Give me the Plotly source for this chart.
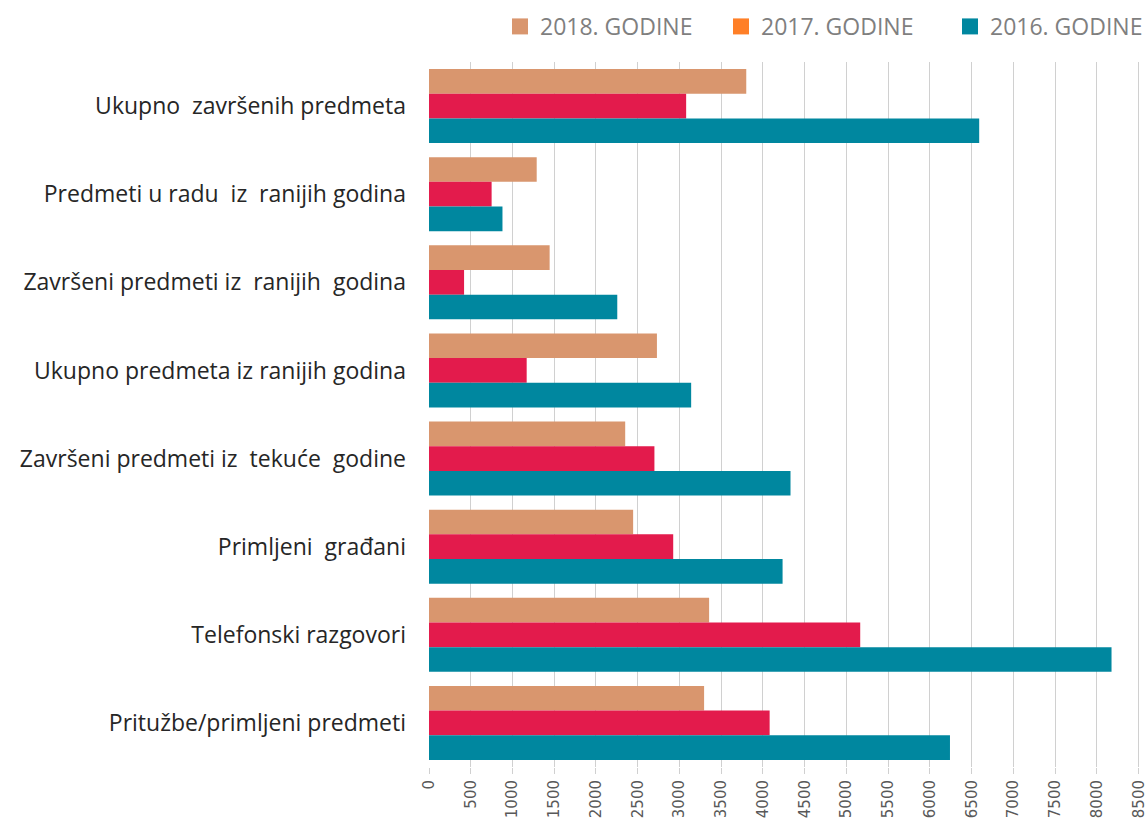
import plotly.graph_objects as go

categories = [
    "Ukupno  završenih predmeta",
    "Predmeti u radu  iz  ranijih godina",
    "Završeni predmeti iz  ranijih  godina",
    "Ukupno predmeta iz ranijih godina",
    "Završeni predmeti iz  tekuće  godine",
    "Primljeni  građani",
    "Telefonski razgovori",
    "Pritužbe/primljeni predmeti",
]
v2018 = [3800, 1290, 1445, 2730, 2350, 2445, 3355, 3295]
v2017 = [3080, 750, 420, 1170, 2700, 2925, 5165, 4080]
v2016 = [6590, 880, 2255, 3140, 4330, 4235, 8175, 6240]
series_names = ["2018. GODINE", "2017. GODINE", "2016. GODINE"]
bar_colors = ["#D9966E", "#E31B4C", "#00879F"]
legend_colors = ["#D9966E", "#FF7F27", "#00879F"]
tick_vals = list(range(0, 8501, 500))

legend_ids = ["legend", "legend2", "legend3"]
legend_x = [500, 721, 950]

fig = go.Figure()
for name, vals, col in zip(series_names, [v2018, v2017, v2016], bar_colors):
    fig.add_trace(go.Bar(y=categories, x=vals, orientation="h", name=name,
                         marker=dict(color=col, line=dict(width=0)), showlegend=False))
for name, col, lid in zip(series_names, legend_colors, legend_ids):
    fig.add_trace(go.Scatter(x=[None], y=[None], mode="markers", name=name, legend=lid,
                             marker=dict(symbol="square", size=16, color=col)))

legend_common = dict(orientation="h", xref="container", xanchor="left",
                     yref="container", y=0.994, yanchor="top",
                     font=dict(size=23, color="#7F7F7F"),
                     itemwidth=30, bgcolor="rgba(0,0,0,0)")

fig.update_layout(
    width=1148, height=827,
    margin=dict(l=429, r=6, t=62, b=60, autoexpand=False),
    paper_bgcolor="white", plot_bgcolor="white",
    barmode="group", bargap=0.16, bargroupgap=0,
    font=dict(family="Open Sans", color="#333333"),
    showlegend=True,
    legend=dict(x=legend_x[0] / 1148, **legend_common),
    legend2=dict(x=legend_x[1] / 1148, **legend_common),
    legend3=dict(x=legend_x[2] / 1148, **legend_common),
)
fig.update_xaxes(range=[0, 8540], tickvals=tick_vals, ticktext=[str(t) for t in tick_vals],
                 tickangle=-90, tickfont=dict(size=15, color="#595959", family="DejaVu Sans"),
                 ticklabeloverflow="allow",
                 showgrid=True, gridcolor="#D0D0D0", gridwidth=1.2, zeroline=False,
                 ticks="outside", ticklen=6, tickcolor="#D0D0D0", tickwidth=1.2,
                 showline=False)
fig.update_yaxes(autorange="reversed", tickfont=dict(size=23, color="#262626"),
                 ticklabelstandoff=22, showgrid=False, zeroline=False, ticks="")

fig.write_html("out.html")
